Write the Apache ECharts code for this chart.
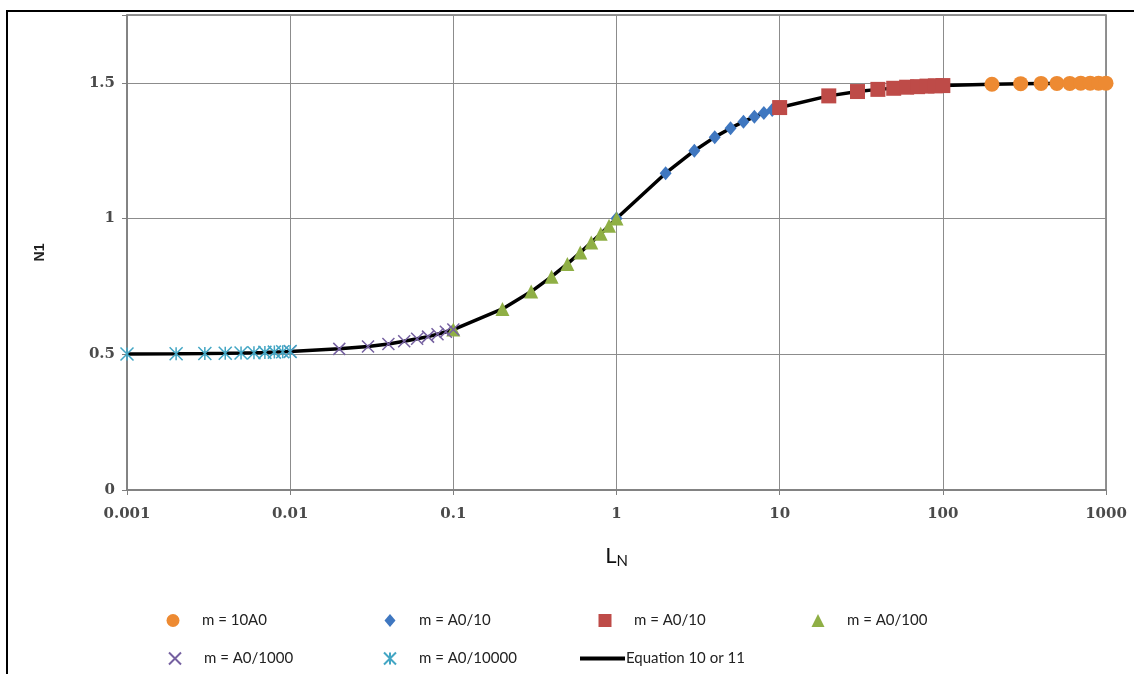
<!DOCTYPE html>
<html>
<head>
<meta charset="utf-8">
<script src="https://cdn.jsdelivr.net/npm/echarts@6/dist/echarts.min.js"></script>
<style>
html,body{margin:0;padding:0;background:#fff;}
#chart{width:1134px;height:674px;}
</style>
</head>
<body>
<div id="chart"></div>
<script>
// ---- data ----
const xTickLabels = ['0.001','0.01','0.1','1','10','100','1000'];
const yTickLabels = ['0','0.5','1','1.5'];

const namesSeries = ['m = 10A0','m = A0/10','m = A0/10\u200b','m = A0/100','m = A0/1000','m = A0/10000','Equation 10 or 11'];

const xOrange = [200,300,400,500,600,700,800,900,1000];
const yOrange = [1.495,1.497,1.498,1.498,1.498,1.499,1.499,1.499,1.499];

const xBlue = [1,2,3,4,5,6,7,8,9,10];
const yBlue = [1.0,1.167,1.25,1.3,1.333,1.357,1.375,1.389,1.4,1.409];

const xRed = [10,20,30,40,50,60,70,80,90,100];
const yRed = [1.409,1.452,1.468,1.476,1.48,1.484,1.486,1.488,1.489,1.49];

const xGreen = [0.1,0.2,0.3,0.4,0.5,0.6,0.7,0.8,0.9,1];
const yGreen = [0.591,0.667,0.731,0.786,0.833,0.875,0.912,0.944,0.974,1.0];

const xPurple = [0.01,0.02,0.03,0.04,0.05,0.06,0.07,0.08,0.09,0.1];
const yPurple = [0.51,0.52,0.529,0.538,0.548,0.557,0.565,0.574,0.583,0.591];

const xCyan = [0.001,0.002,0.003,0.004,0.005,0.006,0.007,0.008,0.009,0.01];
const yCyan = [0.501,0.502,0.503,0.504,0.505,0.506,0.507,0.508,0.509,0.51];

const xLine = [0.001,0.002,0.003,0.004,0.005,0.006,0.007,0.008,0.009,
  0.01,0.02,0.03,0.04,0.05,0.06,0.07,0.08,0.09,
  0.1,0.2,0.3,0.4,0.5,0.6,0.7,0.8,0.9,
  1,2,3,4,5,6,7,8,9,
  10,20,30,40,50,60,70,80,90,
  100,200,300,400,500,600,700,800,900,1000];
const yLine = [0.501,0.502,0.503,0.504,0.505,0.506,0.507,0.508,0.509,
  0.51,0.52,0.529,0.538,0.548,0.557,0.565,0.574,0.583,
  0.591,0.667,0.731,0.786,0.833,0.875,0.912,0.944,0.974,
  1.0,1.167,1.25,1.3,1.333,1.357,1.375,1.389,1.4,
  1.409,1.452,1.468,1.476,1.48,1.484,1.486,1.488,1.489,
  1.49,1.495,1.497,1.498,1.498,1.498,1.499,1.499,1.499,1.499];

function pairs(xs, ys){ return xs.map((x,i)=>[x, ys[i]]); }

const X_PATH = 'path://M0,0L10,10M10,0L0,10';
const STAR_PATH = 'path://M0,0L10,10M10,0L0,10M5,0L5,10';

const chart = echarts.init(document.getElementById('chart'), null, {renderer:'canvas'});

// symbol legends: icon box w wide, text pushed right to mimic Excel's 45px slot
function legSym(name, centerX, top, w, h){
  return {data:[name], left:centerX - w/2, top:top, padding:0, itemWidth:w, itemHeight:h, itemGap:0,
    textStyle:{fontFamily:'Lato', fontSize:15, color:'#222', padding:[0,0,0,28 - w/2 - 5 + 1]},
    selectedMode:false};
}

const option = {
  backgroundColor:'#fff',
  animation:false,
  graphic:[{type:'rect', shape:{x:7, y:11, width:1200, height:720},
    style:{fill:'none', stroke:'#000', lineWidth:2}, silent:true, z:-1}],
  grid:{left:127, right:28, top:15, bottom:184, show:true, borderColor:'#6f6f6f', borderWidth:1.5, backgroundColor:'transparent'},
  legend:[
    legSym(namesSeries[0],173,613,13,13), legSym(namesSeries[1],390,613,11,13),
    legSym(namesSeries[2],605,613,13,13), legSym(namesSeries[3],818,613,13,13),
    legSym(namesSeries[4],174,651,12,12), legSym(namesSeries[5],389,651,12,12),
    {data:[namesSeries[6]], left:580, top:651, padding:0, icon:'rect', itemWidth:45, itemHeight:4, itemGap:0,
      textStyle:{fontFamily:'Lato', fontSize:15, color:'#222', padding:[0,0,0,-4]}, selectedMode:false}
  ],
  xAxis:{
    type:'log', logBase:10, min:0.001, max:1000,
    name:'{a|L}{b|N}', nameLocation:'middle', nameGap:52,
    nameTextStyle:{rich:{
      a:{fontFamily:'Lato', fontSize:22, color:'#111'},
      b:{fontFamily:'Lato', fontSize:15, color:'#111', padding:[12,0,0,0]}
    }},
    axisLine:{show:true, lineStyle:{color:'#7f7f7f', width:1.5}},
    axisTick:{show:true, length:5, lineStyle:{color:'#7f7f7f'}},
    minorTick:{show:false},
    splitLine:{show:true, lineStyle:{color:'#8c8c8c', width:1}},
    axisLabel:{margin:17, fontFamily:'DejaVu Serif', fontWeight:'bold', fontSize:15, color:'#4a4a4a',
      formatter:function(v){ const i=Math.round(Math.log10(v))+3; return xTickLabels[i] || ''; }}
  },
  yAxis:{
    type:'value', min:0, max:1.75, interval:0.5,
    name:'N1', nameLocation:'middle', nameGap:80, nameRotate:90,
    nameTextStyle:{fontFamily:'Liberation Sans', fontWeight:'bold', fontSize:14, color:'#222'},
    axisLine:{show:true, lineStyle:{color:'#7f7f7f', width:1.5}},
    axisTick:{show:true, length:5, lineStyle:{color:'#7f7f7f'}},
    splitLine:{show:true, lineStyle:{color:'#8c8c8c', width:1}},
    axisLabel:{margin:12, fontFamily:'DejaVu Serif', fontWeight:'bold', fontSize:15, color:'#4a4a4a',
      formatter:function(v){ const i=Math.round(v/0.5); return (Math.abs(v-i*0.5)<1e-9 && yTickLabels[i]) ? yTickLabels[i] : ''; }}
  },
  series:[
    {name:namesSeries[6], type:'line', data:pairs(xLine,yLine), symbol:'none', z:1,
      lineStyle:{color:'#000', width:3.5}, itemStyle:{color:'#000'}},
    {name:namesSeries[0], type:'scatter', data:pairs(xOrange,yOrange), symbol:'circle', symbolSize:15,
      itemStyle:{color:'#ED8A32', opacity:1}},
    {name:namesSeries[1], type:'scatter', data:pairs(xBlue,yBlue), symbol:'diamond', symbolSize:[12,14],
      itemStyle:{color:'#3F77C0', opacity:1}},
    {name:namesSeries[2], type:'scatter', data:pairs(xRed,yRed), symbol:'rect', symbolSize:15,
      itemStyle:{color:'#BE4B48', opacity:1}},
    {name:namesSeries[3], type:'scatter', data:pairs(xGreen,yGreen), symbol:'triangle', symbolSize:[14,14],
      itemStyle:{color:'#8FAF45', opacity:1}},
    {name:namesSeries[4], type:'scatter', data:pairs(xPurple,yPurple), symbol:X_PATH, symbolSize:12,
      itemStyle:{color:'rgba(0,0,0,0)', borderColor:'#7560A0', borderWidth:1.5, opacity:1}},
    {name:namesSeries[5], type:'scatter', data:pairs(xCyan,yCyan), symbol:STAR_PATH, symbolSize:13,
      itemStyle:{color:'rgba(0,0,0,0)', borderColor:'#43A6C4', borderWidth:1.5, opacity:1}}
  ]
};
chart.setOption(option);
</script>
</body>
</html>
